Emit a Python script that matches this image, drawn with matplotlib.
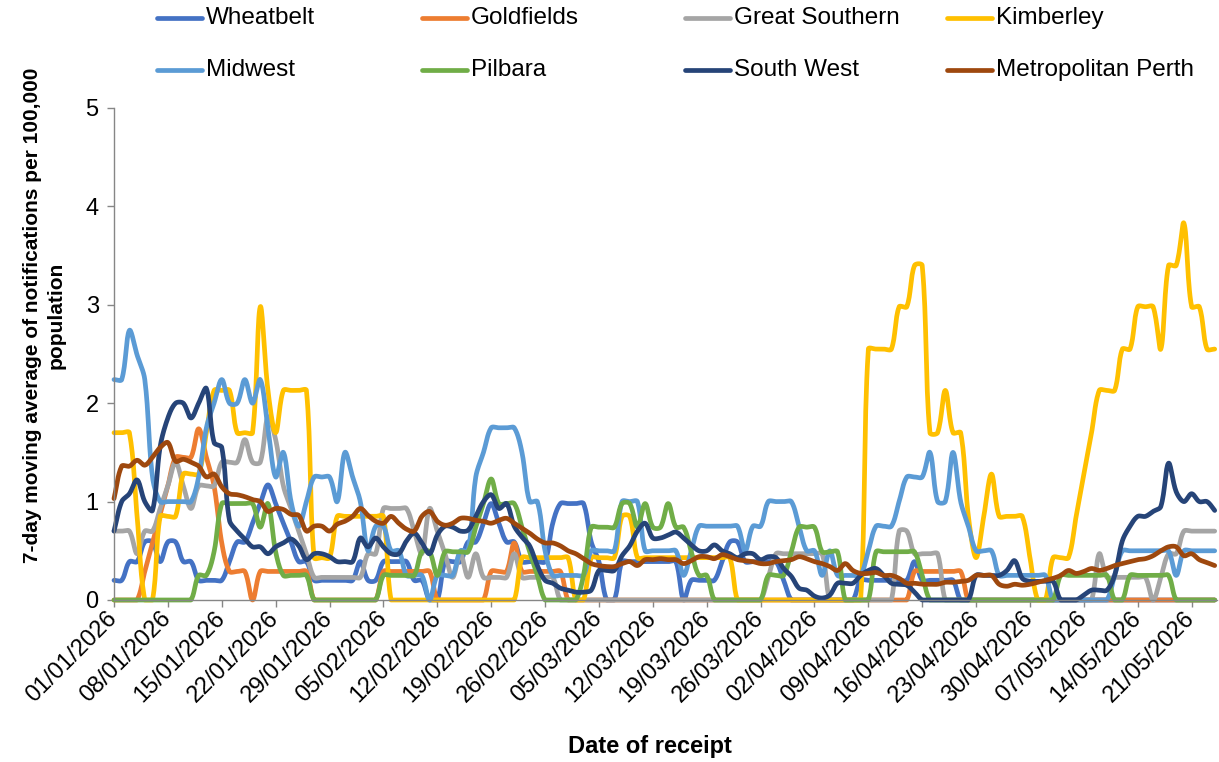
import datetime
import numpy as np
import matplotlib
matplotlib.use("Agg")
import matplotlib.pyplot as plt
from matplotlib.lines import Line2D

plt.rcParams['font.family'] = ['Liberation Sans', 'DejaVu Sans']

# ---------------- data (7-day moving average per 100,000) ----------------
start = datetime.date(2026, 1, 1)
n_days = 144
dates = [start + datetime.timedelta(days=i) for i in range(n_days)]
tick_idx = list(range(0, n_days, 7))
tick_labels = [dates[i].strftime('%d/%m/%Y') for i in tick_idx]

wheatbelt = [
    0.20, 0.20, 0.39, 0.39, 0.59, 0.59, 0.39, 0.59, 0.59, 0.39,
    0.39, 0.20, 0.20, 0.20, 0.20, 0.39, 0.59, 0.59, 0.78, 0.98,
    1.17, 0.98, 0.78, 0.59, 0.39, 0.39, 0.20, 0.20, 0.20, 0.20,
    0.20, 0.20, 0.39, 0.20, 0.20, 0.39, 0.39, 0.39, 0.39, 0.20,
    0.20, 0.00, 0.00, 0.39, 0.39, 0.39, 0.59, 0.59, 0.78, 0.98,
    0.78, 0.59, 0.59, 0.39, 0.39, 0.39, 0.39, 0.78, 0.98, 0.98,
    0.98, 0.98, 0.59, 0.39, 0.00, 0.00, 0.39, 0.39, 0.39, 0.39,
    0.39, 0.39, 0.39, 0.39, 0.00, 0.20, 0.20, 0.20, 0.20, 0.39,
    0.59, 0.59, 0.39, 0.39, 0.39, 0.39, 0.39, 0.20, 0.00, 0.00,
    0.00, 0.00, 0.00, 0.00, 0.00, 0.00, 0.00, 0.20, 0.20, 0.20,
    0.20, 0.20, 0.20, 0.20, 0.39, 0.20, 0.20, 0.20, 0.20, 0.20,
    0.00, 0.00, 0.00, 0.00, 0.00, 0.00, 0.00, 0.00, 0.00, 0.00,
    0.00, 0.00, 0.00, 0.00, 0.00, 0.00, 0.00, 0.00, 0.00, 0.00,
    0.00, 0.00, 0.00, 0.00, 0.00, 0.00, 0.00, 0.00, 0.00, 0.00,
    0.00, 0.00, 0.00, 0.00,
]

goldfields = [
    0.00, 0.00, 0.00, 0.00, 0.29, 0.58, 0.87, 1.16, 1.45, 1.45,
    1.45, 1.74, 1.45, 1.16, 0.58, 0.29, 0.29, 0.29, 0.00, 0.29,
    0.29, 0.29, 0.29, 0.29, 0.29, 0.29, 0.00, 0.00, 0.00, 0.00,
    0.00, 0.00, 0.00, 0.00, 0.00, 0.29, 0.29, 0.29, 0.29, 0.29,
    0.29, 0.29, 0.00, 0.00, 0.00, 0.00, 0.00, 0.00, 0.00, 0.29,
    0.29, 0.29, 0.58, 0.29, 0.29, 0.29, 0.29, 0.29, 0.29, 0.00,
    0.00, 0.00, 0.00, 0.00, 0.00, 0.00, 0.00, 0.00, 0.00, 0.00,
    0.00, 0.00, 0.00, 0.00, 0.00, 0.00, 0.00, 0.00, 0.00, 0.00,
    0.00, 0.00, 0.00, 0.00, 0.00, 0.00, 0.00, 0.00, 0.00, 0.00,
    0.00, 0.00, 0.00, 0.00, 0.00, 0.00, 0.00, 0.00, 0.00, 0.00,
    0.00, 0.00, 0.00, 0.00, 0.29, 0.29, 0.29, 0.29, 0.29, 0.29,
    0.29, 0.00, 0.00, 0.00, 0.00, 0.00, 0.00, 0.00, 0.00, 0.00,
    0.00, 0.00, 0.00, 0.00, 0.00, 0.00, 0.00, 0.00, 0.00, 0.00,
    0.00, 0.00, 0.00, 0.00, 0.00, 0.00, 0.00, 0.00, 0.00, 0.00,
    0.00, 0.00, 0.00, 0.00,
]

great_southern = [
    0.70, 0.70, 0.70, 0.47, 0.70, 0.70, 0.93, 1.16, 1.40, 1.16,
    0.93, 1.16, 1.16, 1.16, 1.40, 1.40, 1.40, 1.63, 1.40, 1.40,
    1.86, 1.63, 1.16, 0.93, 0.70, 0.47, 0.23, 0.23, 0.23, 0.23,
    0.23, 0.23, 0.23, 0.47, 0.47, 0.93, 0.93, 0.93, 0.93, 0.70,
    0.47, 0.93, 0.70, 0.47, 0.23, 0.47, 0.23, 0.47, 0.23, 0.23,
    0.23, 0.23, 0.47, 0.23, 0.23, 0.23, 0.23, 0.23, 0.00, 0.00,
    0.00, 0.00, 0.00, 0.00, 0.00, 0.00, 0.00, 0.00, 0.00, 0.00,
    0.00, 0.00, 0.00, 0.00, 0.00, 0.00, 0.00, 0.00, 0.00, 0.00,
    0.00, 0.00, 0.00, 0.00, 0.00, 0.23, 0.47, 0.47, 0.47, 0.47,
    0.47, 0.47, 0.47, 0.00, 0.00, 0.00, 0.00, 0.00, 0.00, 0.00,
    0.00, 0.00, 0.70, 0.70, 0.47, 0.47, 0.47, 0.47, 0.00, 0.00,
    0.00, 0.00, 0.00, 0.00, 0.00, 0.00, 0.00, 0.00, 0.00, 0.00,
    0.00, 0.00, 0.00, 0.00, 0.00, 0.00, 0.00, 0.00, 0.47, 0.23,
    0.23, 0.23, 0.23, 0.23, 0.23, 0.00, 0.23, 0.47, 0.47, 0.70,
    0.70, 0.70, 0.70, 0.70,
]

kimberley = [
    1.70, 1.70, 1.70, 0.85, 0.00, 0.00, 0.85, 0.85, 0.85, 1.28,
    1.28, 1.28, 1.70, 2.13, 2.13, 2.13, 1.70, 1.70, 1.70, 2.98,
    2.13, 1.70, 2.13, 2.13, 2.13, 2.13, 0.43, 0.43, 0.43, 0.85,
    0.85, 0.85, 0.85, 0.85, 0.85, 0.85, 0.00, 0.00, 0.00, 0.00,
    0.00, 0.00, 0.00, 0.00, 0.00, 0.00, 0.00, 0.00, 0.00, 0.00,
    0.00, 0.00, 0.00, 0.43, 0.43, 0.43, 0.43, 0.43, 0.43, 0.43,
    0.00, 0.00, 0.43, 0.43, 0.43, 0.43, 0.85, 0.85, 0.43, 0.43,
    0.43, 0.43, 0.43, 0.43, 0.43, 0.43, 0.43, 0.43, 0.43, 0.43,
    0.43, 0.00, 0.00, 0.00, 0.00, 0.00, 0.00, 0.00, 0.00, 0.00,
    0.00, 0.00, 0.00, 0.00, 0.00, 0.00, 0.00, 0.00, 2.55, 2.55,
    2.55, 2.55, 2.98, 2.98, 3.40, 3.40, 1.70, 1.70, 2.13, 1.70,
    1.70, 0.85, 0.43, 0.85, 1.28, 0.85, 0.85, 0.85, 0.85, 0.43,
    0.00, 0.00, 0.43, 0.43, 0.43, 0.85, 1.28, 1.70, 2.13, 2.13,
    2.13, 2.55, 2.55, 2.98, 2.98, 2.98, 2.55, 3.40, 3.40, 3.83,
    2.98, 2.98, 2.55, 2.55,
]

midwest = [
    2.24, 2.24, 2.74, 2.49, 2.24, 1.25, 1.00, 1.00, 1.00, 1.00,
    1.00, 1.25, 1.75, 2.00, 2.24, 2.00, 2.00, 2.24, 2.00, 2.24,
    1.75, 1.25, 1.50, 1.00, 0.75, 1.00, 1.25, 1.25, 1.25, 1.00,
    1.50, 1.25, 1.00, 0.50, 0.75, 0.75, 0.50, 0.50, 0.25, 0.25,
    0.25, 0.00, 0.25, 0.25, 0.25, 0.50, 0.50, 1.25, 1.50, 1.75,
    1.75, 1.75, 1.75, 1.50, 1.00, 1.00, 0.50, 0.25, 0.25, 0.25,
    0.25, 0.25, 0.50, 0.50, 0.50, 0.50, 1.00, 1.00, 1.00, 0.50,
    0.50, 0.50, 0.50, 0.50, 0.25, 0.50, 0.75, 0.75, 0.75, 0.75,
    0.75, 0.75, 0.50, 0.75, 0.75, 1.00, 1.00, 1.00, 1.00, 0.75,
    0.50, 0.50, 0.25, 0.50, 0.25, 0.25, 0.25, 0.25, 0.50, 0.75,
    0.75, 0.75, 1.00, 1.25, 1.25, 1.25, 1.50, 1.00, 1.00, 1.50,
    1.00, 0.75, 0.50, 0.50, 0.50, 0.25, 0.25, 0.25, 0.25, 0.25,
    0.25, 0.25, 0.00, 0.00, 0.00, 0.00, 0.00, 0.00, 0.00, 0.00,
    0.25, 0.50, 0.50, 0.50, 0.50, 0.50, 0.50, 0.50, 0.25, 0.50,
    0.50, 0.50, 0.50, 0.50,
]

pilbara = [
    0.00, 0.00, 0.00, 0.00, 0.00, 0.00, 0.00, 0.00, 0.00, 0.00,
    0.00, 0.25, 0.25, 0.49, 0.98, 0.98, 0.98, 0.98, 0.98, 0.74,
    0.98, 0.49, 0.25, 0.25, 0.25, 0.25, 0.00, 0.00, 0.00, 0.00,
    0.00, 0.00, 0.00, 0.00, 0.00, 0.25, 0.25, 0.25, 0.25, 0.25,
    0.49, 0.49, 0.25, 0.49, 0.49, 0.49, 0.49, 0.74, 0.98, 1.23,
    0.98, 0.98, 0.98, 0.74, 0.49, 0.25, 0.00, 0.00, 0.00, 0.00,
    0.00, 0.25, 0.74, 0.74, 0.74, 0.74, 0.98, 0.98, 0.74, 0.98,
    0.74, 0.74, 0.98, 0.74, 0.74, 0.49, 0.25, 0.25, 0.00, 0.00,
    0.00, 0.00, 0.00, 0.00, 0.00, 0.25, 0.25, 0.25, 0.49, 0.74,
    0.74, 0.74, 0.49, 0.49, 0.49, 0.00, 0.00, 0.00, 0.00, 0.49,
    0.49, 0.49, 0.49, 0.49, 0.49, 0.25, 0.00, 0.00, 0.00, 0.00,
    0.00, 0.00, 0.00, 0.00, 0.00, 0.00, 0.00, 0.00, 0.00, 0.00,
    0.00, 0.00, 0.00, 0.25, 0.25, 0.25, 0.25, 0.25, 0.25, 0.25,
    0.00, 0.00, 0.25, 0.25, 0.25, 0.25, 0.25, 0.25, 0.00, 0.00,
    0.00, 0.00, 0.00, 0.00,
]

south_west = [
    0.70, 1.00, 1.08, 1.22, 1.00, 0.91, 1.56, 1.85, 2.00, 2.00,
    1.85, 2.00, 2.15, 1.60, 1.55, 0.81, 0.70, 0.62, 0.54, 0.54,
    0.47, 0.54, 0.58, 0.62, 0.55, 0.41, 0.47, 0.47, 0.44, 0.39,
    0.39, 0.39, 0.63, 0.54, 0.63, 0.54, 0.47, 0.47, 0.60, 0.68,
    0.58, 0.47, 0.66, 0.75, 0.74, 0.70, 0.71, 0.85, 1.00, 1.07,
    0.93, 0.98, 0.75, 0.64, 0.55, 0.35, 0.20, 0.17, 0.12, 0.10,
    0.08, 0.08, 0.10, 0.30, 0.30, 0.30, 0.45, 0.55, 0.70, 0.78,
    0.63, 0.63, 0.66, 0.69, 0.63, 0.56, 0.50, 0.50, 0.56, 0.50,
    0.47, 0.43, 0.47, 0.47, 0.41, 0.44, 0.43, 0.32, 0.24, 0.12,
    0.10, 0.04, 0.02, 0.05, 0.17, 0.17, 0.17, 0.25, 0.30, 0.32,
    0.25, 0.17, 0.16, 0.15, 0.08, 0.00, 0.00, 0.00, 0.00, 0.00,
    0.00, 0.00, 0.25, 0.25, 0.25, 0.25, 0.30, 0.40, 0.22, 0.19,
    0.19, 0.19, 0.19, 0.00, 0.00, 0.00, 0.05, 0.10, 0.10, 0.10,
    0.25, 0.60, 0.75, 0.85, 0.85, 0.90, 0.95, 1.39, 1.10, 1.00,
    1.08, 1.00, 1.00, 0.91,
]

metro_perth = [
    1.03, 1.36, 1.36, 1.42, 1.37, 1.45, 1.55, 1.60, 1.41, 1.43,
    1.40, 1.36, 1.25, 1.28, 1.15, 1.08, 1.07, 1.05, 1.02, 1.00,
    0.90, 0.93, 0.92, 0.87, 0.86, 0.70, 0.75, 0.75, 0.70, 0.77,
    0.80, 0.85, 0.93, 0.86, 0.80, 0.78, 0.85, 0.78, 0.72, 0.70,
    0.85, 0.90, 0.80, 0.76, 0.78, 0.83, 0.83, 0.81, 0.80, 0.78,
    0.81, 0.83, 0.78, 0.73, 0.68, 0.62, 0.58, 0.58, 0.55, 0.50,
    0.47, 0.42, 0.37, 0.35, 0.34, 0.34, 0.37, 0.39, 0.35, 0.41,
    0.41, 0.42, 0.41, 0.41, 0.37, 0.40, 0.44, 0.44, 0.42, 0.46,
    0.44, 0.41, 0.40, 0.39, 0.37, 0.37, 0.39, 0.40, 0.41, 0.44,
    0.42, 0.39, 0.37, 0.34, 0.30, 0.37, 0.30, 0.27, 0.27, 0.28,
    0.25, 0.25, 0.22, 0.17, 0.17, 0.16, 0.16, 0.16, 0.18, 0.18,
    0.19, 0.20, 0.25, 0.25, 0.25, 0.16, 0.14, 0.16, 0.15, 0.16,
    0.18, 0.20, 0.22, 0.25, 0.30, 0.27, 0.29, 0.32, 0.30, 0.32,
    0.35, 0.37, 0.39, 0.41, 0.42, 0.45, 0.50, 0.54, 0.54, 0.45,
    0.47, 0.41, 0.38, 0.35,
]

series_names = ['Wheatbelt', 'Goldfields', 'Great Southern', 'Kimberley',
                'Midwest', 'Pilbara', 'South West', 'Metropolitan Perth']
series_values = [wheatbelt, goldfields, great_southern, kimberley,
                 midwest, pilbara, south_west, metro_perth]
series_colors = ['#4472C4', '#ED7D31', '#A5A5A5', '#FFC000',
                 '#5B9BD5', '#70AD47', '#264478', '#9E480E']

W, H = 1219, 762
L, R, T, B = 114, 1217, 108, 600
x_max = n_days - 1 + 0.3
SX = (R - L) / x_max      # pixels per day (for shape of smoothing)
SY = (B - T) / 5.0        # pixels per unit


def smooth(y, sub=16):
    """Chord-weighted cubic Bezier smoothing (spreadsheet 'smoothed line' look)."""
    y = np.asarray(y, float)
    n = len(y)
    P = np.column_stack([np.arange(n) * SX, y * SY])
    t = np.linspace(0, 1, sub, endpoint=False)[:, None]
    pts = []
    for i in range(n - 1):
        p0 = P[max(i - 1, 0)]
        p1 = P[i]
        p2 = P[i + 1]
        p3 = P[min(i + 2, n - 1)]
        d01 = np.hypot(*(p1 - p0))
        d12 = np.hypot(*(p2 - p1))
        d23 = np.hypot(*(p3 - p2))
        f1 = d12 / (d01 + d12) if d01 + d12 > 0 else 0.5
        f2 = d12 / (d12 + d23) if d12 + d23 > 0 else 0.5
        c1 = p1 + (p2 - p0) * f1 / 3.0
        c2 = p2 - (p3 - p1) * f2 / 3.0
        seg = ((1 - t) ** 3) * p1 + 3 * ((1 - t) ** 2) * t * c1 \
            + 3 * (1 - t) * t ** 2 * c2 + t ** 3 * p2
        pts.append(seg)
    pts.append(P[-1][None, :])
    pts = np.vstack(pts)
    return pts[:, 0] / SX, np.maximum(pts[:, 1] / SY, 0)


fig = plt.figure(figsize=(W / 100, H / 100), dpi=100)
ax = fig.add_axes([L / W, (H - B) / H, (R - L) / W, (B - T) / H])

lw = 3.4
for name, vals, col in zip(series_names, series_values, series_colors):
    assert len(vals) == n_days, name
    xs, ys = smooth(vals)
    ax.plot(xs, ys, color=col, lw=lw, solid_capstyle='round',
            solid_joinstyle='round', clip_on=False)

ax.set_xlim(0, x_max)
ax.set_ylim(0, 5)
for s in ['top', 'right']:
    ax.spines[s].set_visible(False)
for s in ['left', 'bottom']:
    ax.spines[s].set_color('#868686')
    ax.spines[s].set_linewidth(1.0)

ax.set_yticks(range(6))
ax.tick_params(axis='y', length=5, width=1, color='#868686', labelsize=17, pad=6)
ax.set_xticks(tick_idx)
ax.set_xticklabels(tick_labels, rotation=45, ha='right', va='center',
                   rotation_mode='anchor', fontsize=17)
ax.tick_params(axis='x', length=5, width=1, color='#868686', pad=6)

ax.set_ylabel('7-day moving average of notifications per 100,000\npopulation',
              fontsize=15, fontweight='bold', linespacing=1.3)
ax.yaxis.set_label_coords((44 - L) / (R - L), (B - 315) / (B - T))
ax.yaxis.label.set_va('center')
ax.set_xlabel('Date of receipt', fontsize=17, fontweight='bold')
ax.xaxis.set_label_coords((650 - L) / (R - L), -(747 - B) / (B - T))
ax.xaxis.label.set_va('center')

# legend (two rows of four, evenly spaced like the original)
col_x = [155, 420, 683, 945]
row_y = [18, 70]
for i, (name, col) in enumerate(zip(series_names, series_colors)):
    r, c = divmod(i, 4)
    x0, y0 = col_x[c], row_y[r]
    fig.add_artist(Line2D([(x0 + 2) / W, (x0 + 47) / W], [1 - y0 / H, 1 - y0 / H],
                          color=col, lw=lw, solid_capstyle='round',
                          transform=fig.transFigure))
    fig.text((x0 + 51) / W, 1 - y0 / H, name, fontsize=17.5, va='center', ha='left')

fig.savefig('out.png', dpi=100)
